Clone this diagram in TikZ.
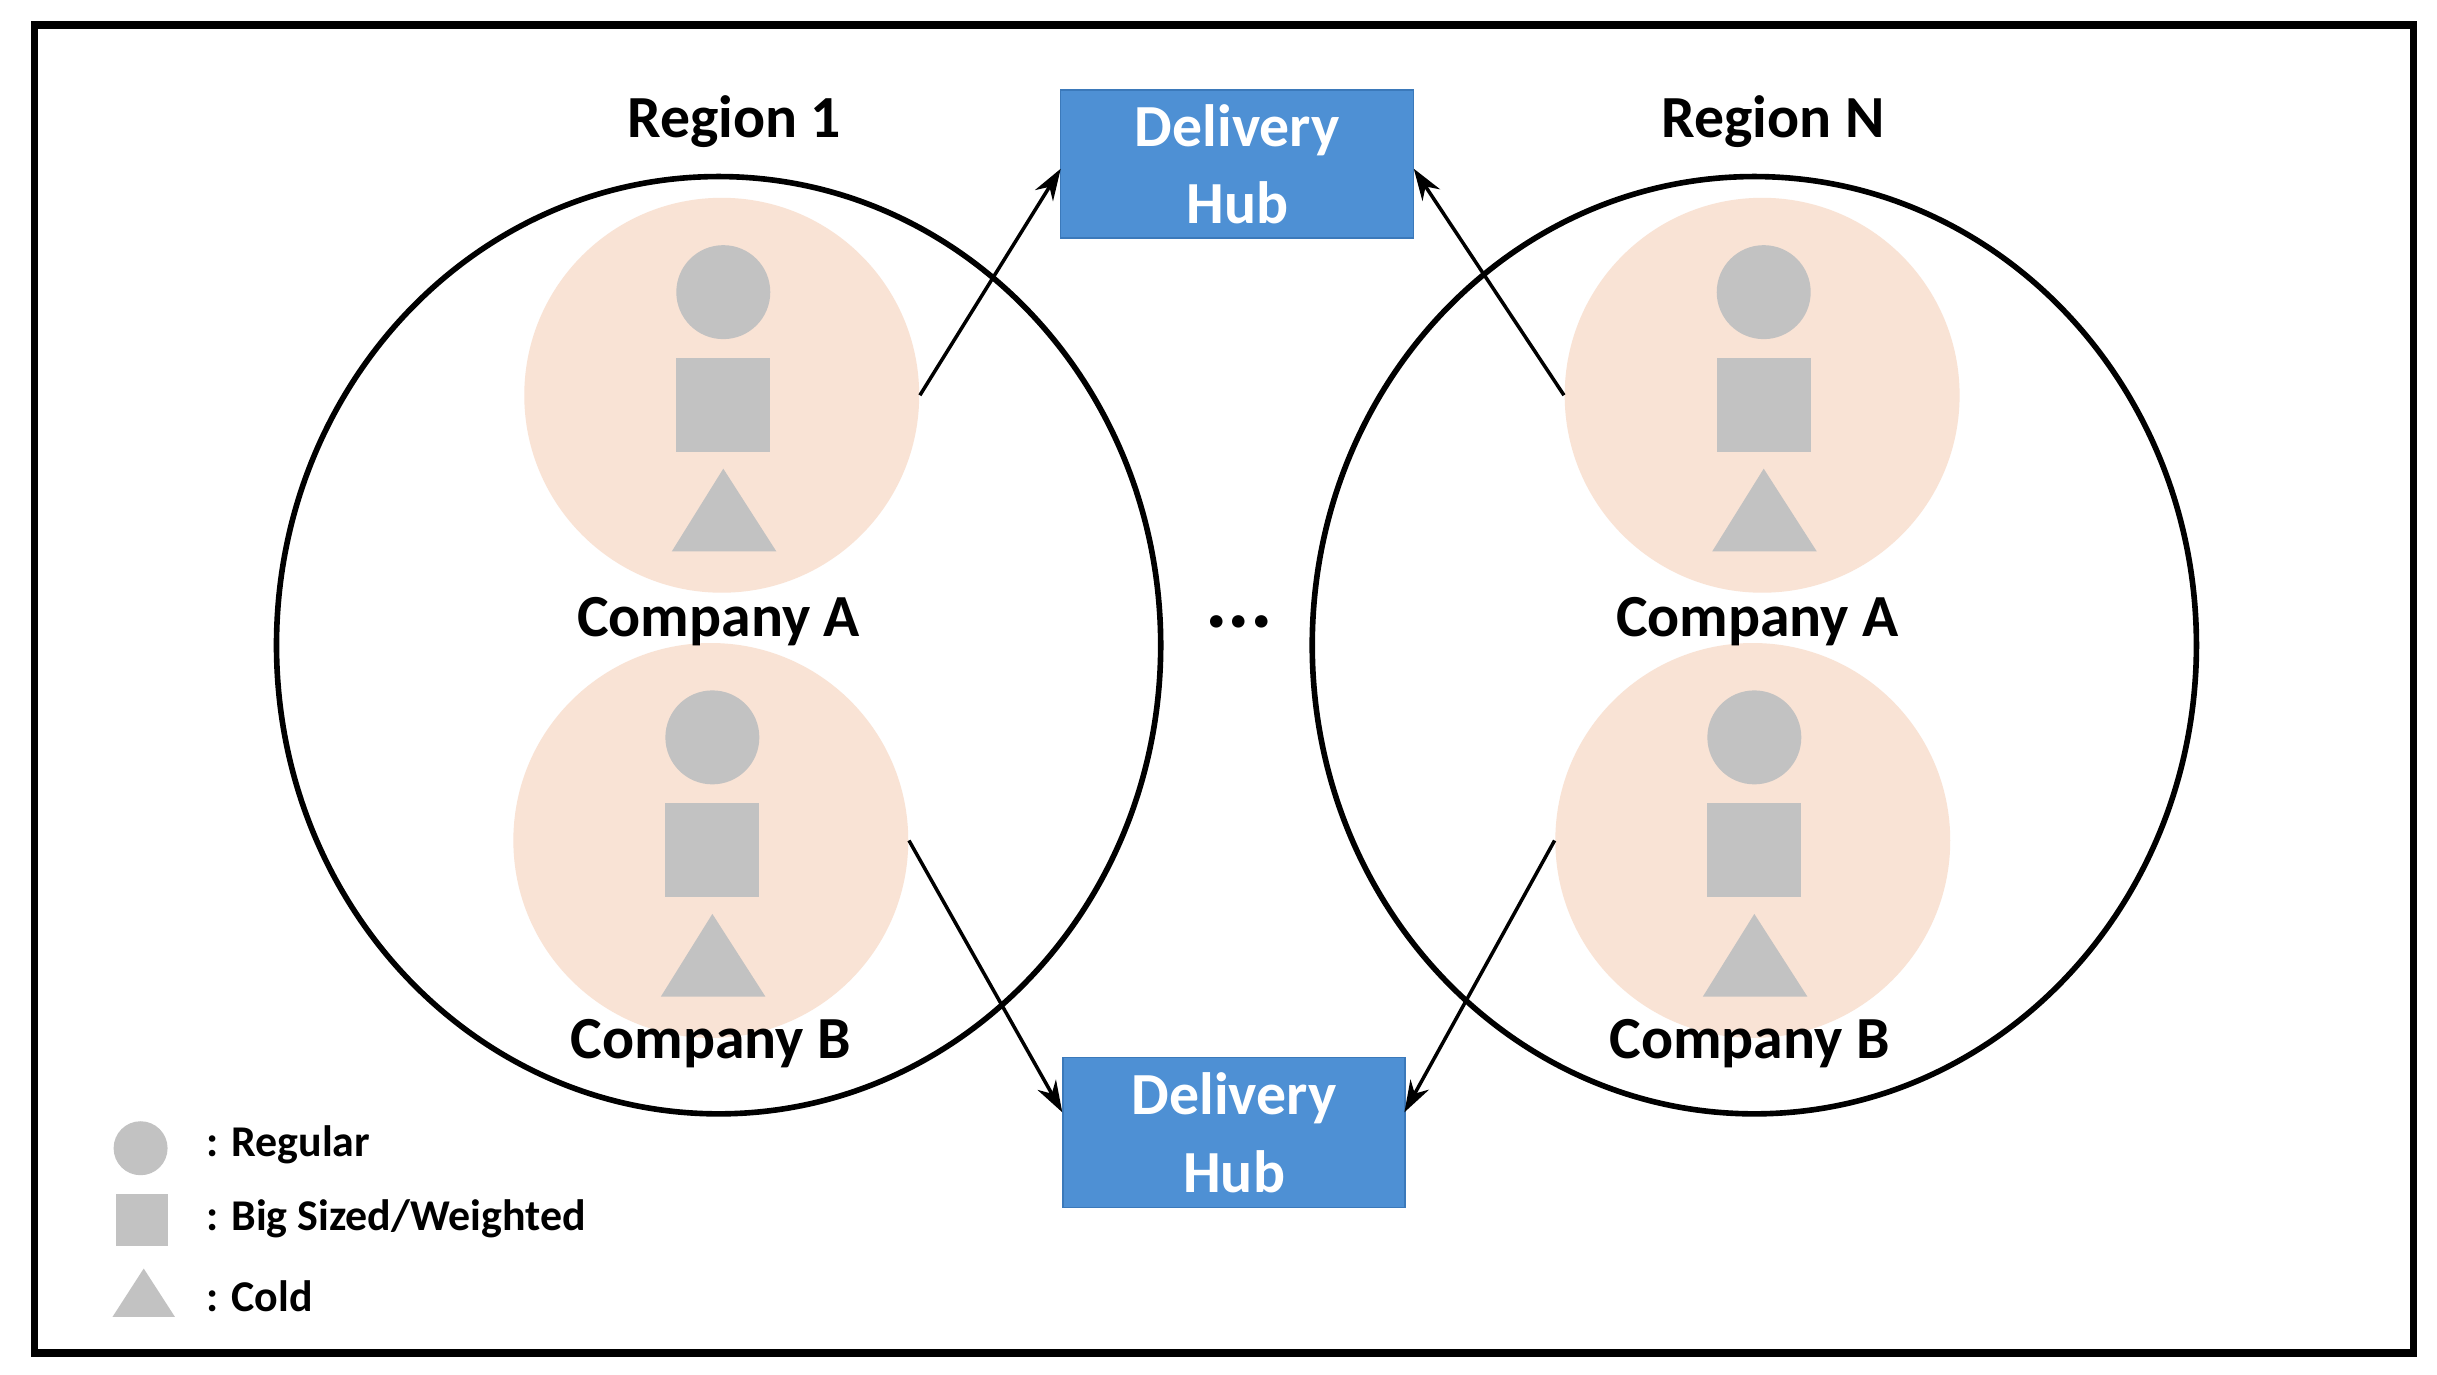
\documentclass[tikz,border=0pt]{standalone}
\usepackage{fontspec}
\setmainfont{Carlito}
\usetikzlibrary{arrows.meta}
\definecolor{pinkc}{HTML}{F9E3D5}
\definecolor{grayc}{HTML}{C2C2C2}
\definecolor{hubc}{HTML}{4E90D4}
\definecolor{hubb}{HTML}{3B79BA}
\begin{document}
\begin{tikzpicture}[x=0.015625cm,y=-0.015625cm,
  comp/.style={circle,fill=pinkc,minimum size=3.95cm,inner sep=0},
  gcirc/.style={circle,fill=grayc,minimum size=0.94cm,inner sep=0},
  gsq/.style={rectangle,fill=grayc,minimum size=0.94cm,inner sep=0},
  hub/.style={rectangle,fill=hubc,draw=hubb,text=white,font=\fontsize{17}{22}\selectfont\bfseries,align=center,inner sep=0},
  lbl/.style={font=\fontsize{17}{19}\selectfont\bfseries},
  leg/.style={font=\fontsize{12.5}{14}\selectfont\bfseries,anchor=west},
  arr/.style={-{Stealth[length=9pt,width=6pt]},line width=1pt}]
\useasboundingbox (0,0) rectangle (1560,880);
\fill[white] (0,0) rectangle (1560,880);
\draw[line width=2.2pt] (22,16) rectangle (1545,866);
% regions
\draw[line width=1.6pt] (460,413) ellipse [x radius=283, y radius=300];
\draw[line width=1.6pt] (1123,413) ellipse [x radius=283, y radius=300];
\node[lbl] (r1) at (470,78) {Region 1};
\node[lbl] (rn) at (1135,78) {Region N};
% companies
\foreach \n/\x/\y in {la/462/253, lb/455/538, ra/1128/253, rb/1122/538}{
  \node[comp] (\n) at (\x,\y) {};
  \node[gcirc] (\n c) at (\x+1,\y-66) {};
  \node[gsq] (\n s) at (\x+1,\y+6) {};
  \fill[grayc] (\x-32,\y+100) -- (\x+35,\y+100) -- (\x+1,\y+47) -- cycle;
}
\node[lbl] (lal) at (460,398) {Company A};
\node[lbl] (lbl) at (455,668) {Company B};
\node[lbl] (ral) at (1125,398) {Company A};
\node[lbl] (rbl) at (1120,668) {Company B};
\node[font=\fontsize{24}{24}\selectfont\bfseries] (dots) at (793,398) {...};
% hubs
\node[hub,minimum width=3.53cm,minimum height=1.48cm] (h1) at (792,105) {Delivery\\Hub};
\node[hub,minimum width=3.42cm,minimum height=1.5cm] (h2) at (790,725) {Delivery\\Hub};
\coordinate (h2l) at (680,712);
\coordinate (h2r) at (899,712);
\coordinate (h1l) at (679,108);
\coordinate (h1r) at (905,108);
\draw[arr] (la.east) -- (h1l);
\draw[arr] (ra.west) -- (h1r);
\draw[arr] (lb.east) -- (h2l);
\draw[arr] (rb.west) -- (h2r);
% legend
\node[circle,fill=grayc,minimum size=0.54cm,inner sep=0] (lc) at (90,735) {};
\node[rectangle,fill=grayc,minimum size=0.52cm,inner sep=0] (ls) at (91,781) {};
\fill[grayc] (72,843) -- (112,843) -- (92,812) -- cycle;
\node[leg] (t1) at (124,733) {: Regular};
\node[leg] (t2) at (124,780) {: Big Sized/Weighted};
\node[leg] (t3) at (124,830) {: Cold};
\end{tikzpicture}
\end{document}
